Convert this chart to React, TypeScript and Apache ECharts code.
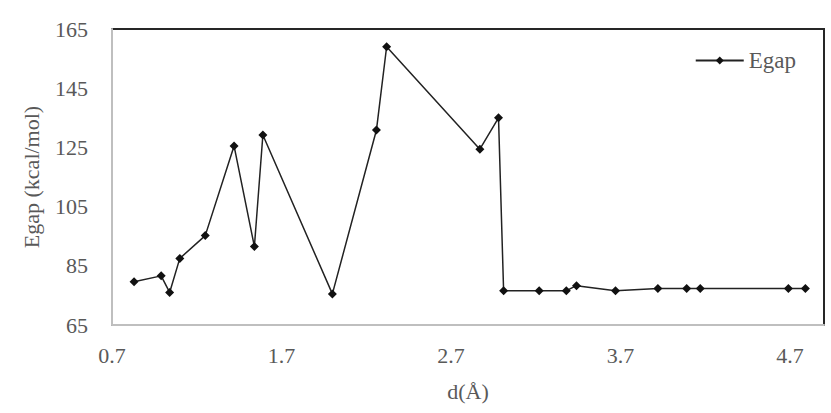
import React, { useEffect, useRef } from "react";
import * as echarts from "echarts";

const dValues = [0.83, 0.99, 1.04, 1.1, 1.25, 1.42, 1.54, 1.59, 2.0, 2.26, 2.32, 2.87, 2.98, 3.01, 3.22, 3.38, 3.44, 3.67, 3.92, 4.09, 4.17, 4.69, 4.79];
const egapValues = [79.6, 81.6, 76.0, 87.5, 95.2, 125.5, 91.5, 129.2, 75.5, 130.9, 159.0, 124.4, 135.0, 76.6, 76.6, 76.6, 78.3, 76.6, 77.3, 77.3, 77.3, 77.3, 77.3];
const seriesName = "Egap";
const xAxisName = "d(Å)";
const yAxisName = "Egap (kcal/mol)";

const FONT = "Liberation Serif";
const TEXT = "#595959";

export default function App() {
  const ref = useRef<HTMLDivElement>(null);
  useEffect(() => {
    if (!ref.current) return;
    const chart = echarts.init(ref.current, undefined, { renderer: "svg" });
    const data = dValues.map((d, i) => [d, egapValues[i]]);
    chart.setOption({
      animation: false,
      backgroundColor: "#ffffff",
      textStyle: { fontFamily: FONT },
      grid: {
        left: 112,
        right: 7,
        top: 29,
        bottom: 88,
        show: true,
        borderColor: "#262626",
        borderWidth: 2,
      },
      legend: {
        right: 30,
        top: 44,
        itemWidth: 48,
        itemHeight: 10,
        itemGap: 4,
        textStyle: { fontFamily: FONT, fontSize: 23, color: TEXT },
        data: [seriesName],
      },
      xAxis: {
        type: "value",
        min: 0.7,
        max: 4.9,
        interval: 1,
        name: xAxisName,
        nameLocation: "middle",
        nameGap: 55,
        nameTextStyle: { fontFamily: FONT, fontSize: 22, color: TEXT },
        axisLine: { show: true, lineStyle: { color: "#bfbfbf", width: 2 } },
        axisTick: { show: false },
        splitLine: { show: false },
        axisLabel: {
          margin: 19,
          fontSize: 22,
          color: TEXT,
          fontFamily: FONT,
          showMaxLabel: false,
          formatter: (v: number) => (Math.abs(v - 4.9) < 1e-6 ? "" : v.toFixed(1)),
        },
      },
      yAxis: {
        type: "value",
        min: 65,
        max: 165,
        interval: 20,
        name: yAxisName,
        nameLocation: "middle",
        nameGap: 70,
        nameTextStyle: { fontFamily: FONT, fontSize: 22, color: TEXT },
        axisLine: { show: true, lineStyle: { color: "#bfbfbf", width: 2 } },
        axisTick: { show: false },
        splitLine: { show: false },
        axisLabel: {
          margin: 24,
          fontSize: 22,
          color: TEXT,
          fontFamily: FONT,
        },
      },
      series: [
        {
          name: seriesName,
          type: "line",
          data,
          symbol: "diamond",
          symbolSize: 9,
          itemStyle: { color: "#111111" },
          lineStyle: { color: "#222222", width: 1.5 },
        },
      ],
    });
    return () => chart.dispose();
  }, []);
  return <div ref={ref} style={{ width: 831, height: 413, position: "absolute", left: 0, top: 0 }} />;
}
